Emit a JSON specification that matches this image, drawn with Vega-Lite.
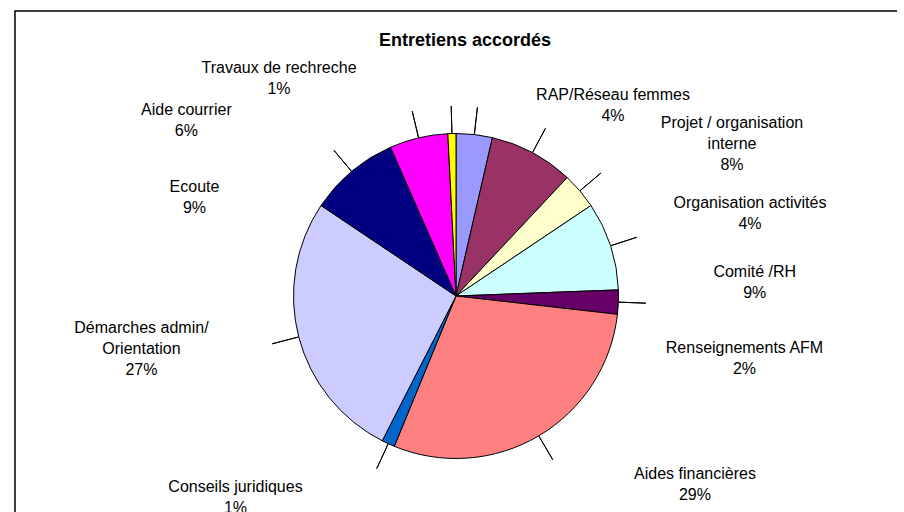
{
  "$schema": "https://vega.github.io/schema/vega-lite/v6.json",
  "autosize": {"type": "none"},
  "padding": {"left": 15, "top": 11, "right": 0, "bottom": 0},
  "width": 882,
  "height": 570,
  "background": "white",
  "view": {"style": "frame", "stroke": "#000000", "strokeWidth": 1.5, "strokeDash": [882, 1452, 570], "fill": "white"},
  "config": {
    "font": "Liberation Sans",
    "style": {"frame": {"stroke": "#000000", "strokeWidth": 1.5, "strokeDash": [882, 1452, 570], "fill": "white"}}
  },
  "title": {
    "text": "Entretiens accordés",
    "anchor": "middle",
    "frame": "group",
    "font": "Liberation Sans",
    "fontSize": 18,
    "fontWeight": "bold",
    "color": "#000000",
    "baseline": "alphabetic",
    "offset": 0,
    "dx": 9,
    "dy": 53
  },
  "data": {
    "values": [
      {"key": "RAP", "label": "RAP/Réseau femmes\n4%", "value": 0.036, "order": 1},
      {"key": "Projet", "label": "Projet / organisation\ninterne\n8%", "value": 0.084, "order": 2},
      {"key": "Org", "label": "Organisation activités\n4%", "value": 0.036, "order": 3},
      {"key": "Comite", "label": "Comité /RH\n9%", "value": 0.088, "order": 4},
      {"key": "Rens", "label": "Renseignements AFM\n2%", "value": 0.024, "order": 5},
      {"key": "Aides", "label": "Aides financières\n29%", "value": 0.294, "order": 6},
      {"key": "Conseils", "label": "Conseils juridiques\n1%", "value": 0.013, "order": 7},
      {"key": "Demarches", "label": "Démarches admin/\nOrientation\n27%", "value": 0.269, "order": 8},
      {"key": "Ecoute", "label": "Ecoute\n9%", "value": 0.09, "order": 9},
      {"key": "Courrier", "label": "Aide courrier\n6%", "value": 0.058, "order": 10},
      {"key": "Travaux", "label": "Travaux de rechreche\n1%", "value": 0.008, "order": 11}
    ]
  },
  "encoding": {
    "theta": {"field": "value", "type": "quantitative", "stack": true},
    "order": {"field": "order", "type": "quantitative"},
    "detail": {"field": "key", "type": "nominal"}
  },
  "layer": [
    {
      "mark": {"type": "arc", "radius": 162.5, "stroke": "#000000", "strokeWidth": 1},
      "encoding": {
        "color": {
          "field": "key",
          "type": "nominal",
          "legend": null,
          "scale": {
            "domain": ["RAP", "Projet", "Org", "Comite", "Rens", "Aides", "Conseils", "Demarches", "Ecoute", "Courrier", "Travaux"],
            "range": ["#9999FF", "#993366", "#FFFFCC", "#CCFFFF", "#660066", "#FF8080", "#0066CC", "#CCCCFF", "#000080", "#FF00FF", "#FFFF00"]
          }
        }
      }
    },
    {
      "mark": {"type": "arc", "filled": false, "stroke": "#000000", "strokeWidth": 1, "radius": 190, "radius2": 163, "padAngle": 3},
      "encoding": {}
    },
    {
      "mark": {"type": "text", "radius": 163, "dx": 138.6, "dy": -47, "align": "center", "baseline": "top", "lineBreak": "\n", "lineHeight": 21, "fontSize": 16, "font": "Liberation Sans", "color": "#000000"},
      "encoding": {"text": {"condition": {"test": "datum.key === 'RAP'", "field": "label"}, "value": ""}}
    },
    {
      "mark": {"type": "text", "radius": 163, "dx": 199.3, "dy": -37.2, "align": "center", "baseline": "top", "lineBreak": "\n", "lineHeight": 21, "fontSize": 16, "font": "Liberation Sans", "color": "#000000"},
      "encoding": {"text": {"condition": {"test": "datum.key === 'Projet'", "field": "label"}, "value": ""}}
    },
    {
      "mark": {"type": "text", "radius": 163, "dx": 169.7, "dy": 4.8, "align": "center", "baseline": "top", "lineBreak": "\n", "lineHeight": 21, "fontSize": 16, "font": "Liberation Sans", "color": "#000000"},
      "encoding": {"text": {"condition": {"test": "datum.key === 'Org'", "field": "label"}, "value": ""}}
    },
    {
      "mark": {"type": "text", "radius": 163, "dx": 143.7, "dy": 18.7, "align": "center", "baseline": "top", "lineBreak": "\n", "lineHeight": 21, "fontSize": 16, "font": "Liberation Sans", "color": "#000000"},
      "encoding": {"text": {"condition": {"test": "datum.key === 'Comite'", "field": "label"}, "value": ""}}
    },
    {
      "mark": {"type": "text", "radius": 163, "dx": 125.6, "dy": 38.2, "align": "center", "baseline": "top", "lineBreak": "\n", "lineHeight": 21, "fontSize": 16, "font": "Liberation Sans", "color": "#000000"},
      "encoding": {"text": {"condition": {"test": "datum.key === 'Rens'", "field": "label"}, "value": ""}}
    },
    {
      "mark": {"type": "text", "radius": 163, "dx": 156, "dy": 30, "align": "center", "baseline": "top", "lineBreak": "\n", "lineHeight": 21, "fontSize": 16, "font": "Liberation Sans", "color": "#000000"},
      "encoding": {"text": {"condition": {"test": "datum.key === 'Aides'", "field": "label"}, "value": ""}}
    },
    {
      "mark": {"type": "text", "radius": 163, "dx": -152.5, "dy": 34.6, "align": "center", "baseline": "top", "lineBreak": "\n", "lineHeight": 21, "fontSize": 16, "font": "Liberation Sans", "color": "#000000"},
      "encoding": {"text": {"condition": {"test": "datum.key === 'Conseils'", "field": "label"}, "value": ""}}
    },
    {
      "mark": {"type": "text", "radius": 163, "dx": -156.8, "dy": -17.3, "align": "center", "baseline": "top", "lineBreak": "\n", "lineHeight": 21, "fontSize": 16, "font": "Liberation Sans", "color": "#000000"},
      "encoding": {"text": {"condition": {"test": "datum.key === 'Demarches'", "field": "label"}, "value": ""}}
    },
    {
      "mark": {"type": "text", "radius": 163, "dx": -156.8, "dy": 7.6, "align": "center", "baseline": "top", "lineBreak": "\n", "lineHeight": 21, "fontSize": 16, "font": "Liberation Sans", "color": "#000000"},
      "encoding": {"text": {"condition": {"test": "datum.key === 'Ecoute'", "field": "label"}, "value": ""}}
    },
    {
      "mark": {"type": "text", "radius": 163, "dx": -232.1, "dy": -35.4, "align": "center", "baseline": "top", "lineBreak": "\n", "lineHeight": 21, "fontSize": 16, "font": "Liberation Sans", "color": "#000000"},
      "encoding": {"text": {"condition": {"test": "datum.key === 'Courrier'", "field": "label"}, "value": ""}}
    },
    {
      "mark": {"type": "text", "radius": 163, "dx": -172.9, "dy": -73.3, "align": "center", "baseline": "top", "lineBreak": "\n", "lineHeight": 21, "fontSize": 16, "font": "Liberation Sans", "color": "#000000"},
      "encoding": {"text": {"condition": {"test": "datum.key === 'Travaux'", "field": "label"}, "value": ""}}
    }
  ]
}
